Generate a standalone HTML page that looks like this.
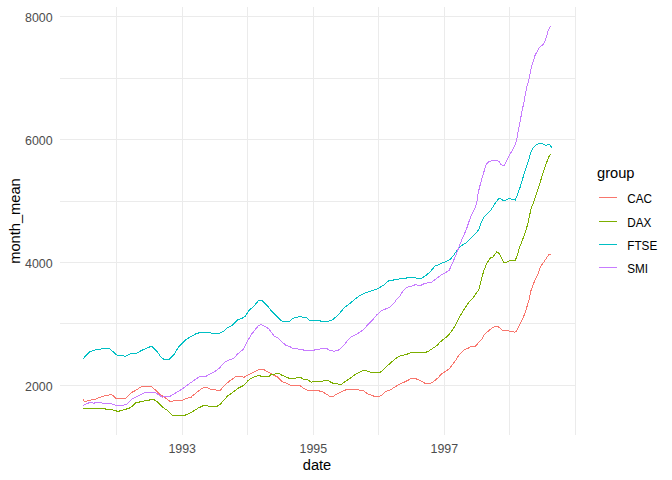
<!DOCTYPE html>
<html><head><meta charset="utf-8"><style>
html,body{margin:0;padding:0;background:#fff;}
svg{display:block;}
text{font-family:"Liberation Sans",sans-serif;}
</style></head><body>
<svg width="672" height="480" viewBox="0 0 672 480">
<rect width="672" height="480" fill="#fff"/>
<g stroke="#EBEBEB" stroke-width="1" shape-rendering="crispEdges">
<line x1="60" y1="323.5" x2="576" y2="323.5"/>
<line x1="60" y1="201.5" x2="576" y2="201.5"/>
<line x1="60" y1="78.5" x2="576" y2="78.5"/>
<line x1="60" y1="385.5" x2="576" y2="385.5"/>
<line x1="60" y1="262.5" x2="576" y2="262.5"/>
<line x1="60" y1="139.5" x2="576" y2="139.5"/>
<line x1="60" y1="16.5" x2="576" y2="16.5"/>
<line x1="116.5" y1="7" x2="116.5" y2="435"/>
<line x1="247.5" y1="7" x2="247.5" y2="435"/>
<line x1="378.5" y1="7" x2="378.5" y2="435"/>
<line x1="509.5" y1="7" x2="509.5" y2="435"/>
<line x1="575.5" y1="7" x2="575.5" y2="435"/>
<line x1="182.5" y1="7" x2="182.5" y2="435"/>
<line x1="313.5" y1="7" x2="313.5" y2="435"/>
<line x1="444.5" y1="7" x2="444.5" y2="435"/>
</g>
<g>
<polyline fill="none" stroke="#F8766D" stroke-width="1.0" stroke-linejoin="round" stroke-linecap="butt" shape-rendering="crispEdges" points="83,399.6 84,401.3 87,401.3 87.5,400.25 91,400.25 91.5,399.3 95,399.3 97.5,398.3 100,397.3 103,396.3 106.7,395.5 111,394.6 113,395.4 116,398.3 126,398.3 131.7,392.5 136,390.2 141.8,386.4 151.4,386.4 155.8,390.4 159.2,393.9 165,397.7 170,401.25 173,401.25 174,400.4 182.5,400.3 186,398.3 191,397.5 192,396.25 197.8,391.5 203.7,387.3 207,387.3 210,389.2 214.5,389.2 216,390.2 220.3,390.2 224.5,385.4 228.7,381.7 236,376.4 242,376.4 243.7,377.5 248,374.8 253,372.5 258.8,369.4 263.4,369.4 269.7,372.9 273,375 277.2,376.7 282.2,381.7 287.2,383.3 290.5,385.4 299.7,385.4 305,389.2 307.5,390.3 318.3,390.3 320,391.4 322.5,391.4 325,393.3 328.3,395.4 329.6,396.4 333.3,396.4 335.8,394.6 340,392.5 345,390.25 346.7,389.3 358.3,389.3 359.2,390.4 363.3,390.4 367.5,393.75 371.7,395.4 375,396.5 379.2,396.5 381.7,395.4 385.8,391.5 390.8,389.6 397.5,385.4 401.7,383.3 406,381.25 409.2,379.6 411.7,378.3 415.4,378.3 417.5,379.6 420.8,380.8 425,383.3 430.8,383.3 435,380.4 438.3,377.5 441.7,373.75 445,371.7 449.2,368.75 452.5,364.6 456.2,359.8 458.7,355.4 464.5,349.6 468.7,347.9 471.2,346.5 475.3,346.5 478.7,342.5 482,338.75 484.5,334.2 487.8,331.5 492.8,327.5 495.3,326.25 497.8,326.25 502,330 503.7,330.4 508.3,330.4 509.2,331.25 513.3,331.25 514.6,332.25 516.7,330.8 520,324.2 523.3,317.5 525,312.9 526.7,307.5 528.3,302.5 529.6,297.5 530.6,291.7 533.2,284.4 535.8,278.1 537.9,274 540,267.7 543.1,263 546.7,257.8 548.8,254.7 550.6,254"/>
<polyline fill="none" stroke="#7CAE00" stroke-width="1.0" stroke-linejoin="round" stroke-linecap="butt" shape-rendering="crispEdges" points="83,408.6 105,408.6 105.5,409.4 112.5,409.4 113.5,410.4 116,410.4 117,411.4 119,411.4 120,410.4 122.5,410.4 123.5,409.4 126,409.4 127,408.3 129,408.3 132.5,406 136,402.3 139,402.3 141,401.25 144,401.25 145,400.4 149,400.4 150.5,399.4 153.5,399.4 156.7,401.4 162.5,407.1 166.7,410 172.5,415.25 185,415.25 190,412.9 192,412.1 197.8,408.3 203.7,405.4 207,405.4 208.7,406.4 217,406.4 220.3,404.2 227.8,395.8 233.7,391.7 238.7,387.9 243.7,385.4 248,380.6 251.3,378.3 255.5,376.5 258.8,375.4 262,376.5 268.8,376.5 271.3,374.4 274.7,374.4 275.5,373.3 278.8,373.3 282.2,375.4 287.2,377.5 289.7,378.5 295.5,378.5 296.3,377.3 300.5,377.3 303.3,379.4 307.5,379.4 310,381.5 311.25,382.3 312.5,381.5 322.5,381.5 324.2,380.4 328.3,380.4 330.8,382.3 333.3,383.3 336.7,383.3 338.3,384.3 341.7,384.3 345,381.7 350,378.3 355,374.6 360.8,371.5 363.75,370.4 369.2,371.5 370.8,372.3 380,372.3 383.3,370 388.3,365 392.5,361.25 396.7,357.9 400,356 404.2,355 409.2,353.5 411.7,352.3 425.8,352.3 429.2,350.8 433.3,347.9 436.7,345.8 440,342.2 445,338.1 447.5,336.25 452.5,330 456.25,323.75 460,316.25 463.75,310 468.75,302.5 473.75,296.9 478.75,289.6 481.4,279.6 483.5,271.7 486,265 487.7,262.1 490.6,257.5 492.7,257.1 496.8,251.7 499.3,253.75 501.8,258.75 504.3,262.9 507.7,261.8 511,260.25 515.2,260.25 516.8,256.7 519.3,248.3 520.7,244.5 523.3,237.7 525.9,230.4 528,223.1 529.5,215.8 531.1,208.5 533.2,203.3 535.3,197.6 536.1,194.5 538.75,186.7 541.4,178.3 544,170 546.6,162.7 548.6,157.2 550.7,154.2"/>
<polyline fill="none" stroke="#00BFC4" stroke-width="1.0" stroke-linejoin="round" stroke-linecap="butt" shape-rendering="crispEdges" points="83.3,358.6 86.7,354.6 90,351.7 94.2,350.4 96.7,349.3 100.8,349.3 101.7,348.3 109.2,348.3 112.5,351.25 116.7,355 117.5,355.4 123.3,355.4 125,356.4 128.3,355 130.8,353.3 134.2,353.3 136,353.5 141,350.8 147.7,347.5 151.8,346.4 156.8,351.25 161,357.1 164.75,360 169.3,359.4 174.3,354.2 178.5,347.1 186,339.6 191,336.5 196.8,333.3 202.7,332.3 210.2,332.3 211.8,333.3 219.3,333.3 223.5,331.5 227.7,327.5 232.7,325 237.7,319.6 242,318.3 245.3,316.25 248.7,310.8 253.7,306.25 258.7,300.4 262,300.4 267,305.4 272,311.7 277,316.7 282,321.25 289.5,321.25 292.8,318.3 296.2,317.5 299.6,316.5 301.2,316.5 302.25,317.3 306.4,317.3 309.5,320.4 320,320.4 321,321.35 328.3,321.35 331.4,320.4 333.5,319 337.7,315.5 344,308 347,305.7 351.2,302.4 355,299.2 360,295.4 364.2,293.3 370,291.5 375,289.6 378.3,288.4 383.3,285.4 386.7,282.5 389.2,280.4 393.3,280.2 395,279.2 398.3,279.2 400,278.3 406.25,278.3 407,277.3 415.4,277.3 416.25,278.3 421.25,278.3 425,276.25 430.8,271.25 435,265.8 439.2,264.6 441.7,263.3 446.7,261.25 450,259.6 453.3,255.8 457.7,249.2 461,245.8 466.8,242.5 471,238.3 476.8,232.5 479.3,228.3 481,223.3 484.3,216.7 491,210 495.5,202.7 498.6,198.75 500.1,198.5 502.75,200.1 505.9,200.1 509,198.3 512.1,199.4 515.25,200.1 517.3,195.4 520.5,186 523.6,175.6 526.7,166.25 528.3,161.5 530.4,153 533.3,147.5 535.8,145 539.2,143.3 541.7,143.3 543.3,144.3 545.8,145.4 549.2,144.3 551.7,147.5"/>
<polyline fill="none" stroke="#C77CFF" stroke-width="1.0" stroke-linejoin="round" stroke-linecap="butt" shape-rendering="crispEdges" points="83,405.4 85,404.4 87.5,403.3 91,402.3 93.5,403.3 97,402.3 99.5,402.5 103,403.3 111,403.3 113,404.4 116,405.4 122.5,405.4 126,404.4 128,403.3 133,398.3 136,397.1 145,392.3 155,392.4 162.5,397.3 165,396.5 170,396.4 175,393.3 180,390.3 186,386.25 191,382.5 197,378.3 200.3,376.4 206,376.4 210.3,373.75 214.5,371.7 219.5,367.9 224.2,362.7 227.3,360.6 230.4,359.6 233.5,358.5 237.7,353.9 243.4,349.2 247.6,340.8 251.25,334.6 255.4,329.4 258.5,325.7 261.1,324.4 263.75,325.7 268.5,328.6 270,330.4 272,333.3 274.2,336.25 277.5,337.5 285.8,345.4 290,346.5 292.5,348.5 297.5,348.5 298.3,349.3 303.3,349.3 304,350.4 314,350.4 315,349.3 320,349 327,348.5 329.2,350.25 334.2,351.25 338.3,350.25 340.8,348.5 345,343.75 348.3,339.6 351.7,336.5 356.7,334 360,332.1 363.75,329.2 370,322.4 373.3,319.2 376.7,315 380.8,311.25 384.2,309.6 390,307.1 394.2,302.9 395.8,300.5 400,296 402.5,291.7 406.7,287.5 410,286.5 413.3,285.8 415.4,284.3 417.5,285.4 420.8,285.4 425,283.3 431.7,282.1 435.8,279.2 440,275.8 445,272.9 449.2,270.4 452.75,262.3 455.5,256.2 458.1,249.2 461,241.7 464.3,234.2 466.4,229.4 469.5,220 472.6,212.5 475.75,206.25 477,201.25 478.25,192.5 480.75,182.5 482.6,176.25 484.3,170.5 486.2,164.5 489.2,161.5 493.3,160.4 497.5,160.4 499.2,161.7 500.8,164.2 502.5,165.4 504.2,165.4 505.8,162.5 510,154.2 512.5,150 515.3,144.7 516.8,138.9 519,127 521.9,111.9 524,101.7 526.8,86.7 529.3,78.3 530.7,70 532.5,63 533.5,60.5 535.2,54.8 539.2,48 544,43.4 546.6,36.7 547.9,31.7 549.2,28.3 550.2,27 551.2,26.8"/>
</g>
<g font-size="12.4" fill="#4D4D4D"><text transform="translate(52.6,390.9) scale(1,1.07)" text-anchor="end">2000</text><text transform="translate(52.6,267.9) scale(1,1.07)" text-anchor="end">4000</text><text transform="translate(52.6,144.9) scale(1,1.07)" text-anchor="end">6000</text><text transform="translate(52.6,21.9) scale(1,1.07)" text-anchor="end">8000</text><text transform="translate(182.2,453.1) scale(1,1.07)" text-anchor="middle">1993</text><text transform="translate(313.3,453.1) scale(1,1.07)" text-anchor="middle">1995</text><text transform="translate(444.3,453.1) scale(1,1.07)" text-anchor="middle">1997</text></g>
<text x="317" y="470" font-size="14.67" fill="#000" text-anchor="middle">date</text>
<text transform="translate(20.2,221) rotate(-90)" font-size="14.67" fill="#000" text-anchor="middle">month_mean</text>
<text x="597" y="177.8" font-size="14.67" fill="#000">group</text>
<g font-size="11.73" fill="#000">
<line x1="599" y1="197.50" x2="617" y2="197.50" stroke="#F8766D" stroke-width="1" shape-rendering="crispEdges"/>
<text transform="translate(627.3,203.00) scale(1,1.08)">CAC</text>
<line x1="599" y1="221.50" x2="617" y2="221.50" stroke="#7CAE00" stroke-width="1" shape-rendering="crispEdges"/>
<text transform="translate(627.3,227.00) scale(1,1.08)">DAX</text>
<line x1="599" y1="244.50" x2="617" y2="244.50" stroke="#00BFC4" stroke-width="1" shape-rendering="crispEdges"/>
<text transform="translate(627.3,250.00) scale(1,1.08)">FTSE</text>
<line x1="599" y1="267.50" x2="617" y2="267.50" stroke="#C77CFF" stroke-width="1" shape-rendering="crispEdges"/>
<text transform="translate(627.3,273.00) scale(1,1.08)">SMI</text>
</g>
</svg>
</body></html>
